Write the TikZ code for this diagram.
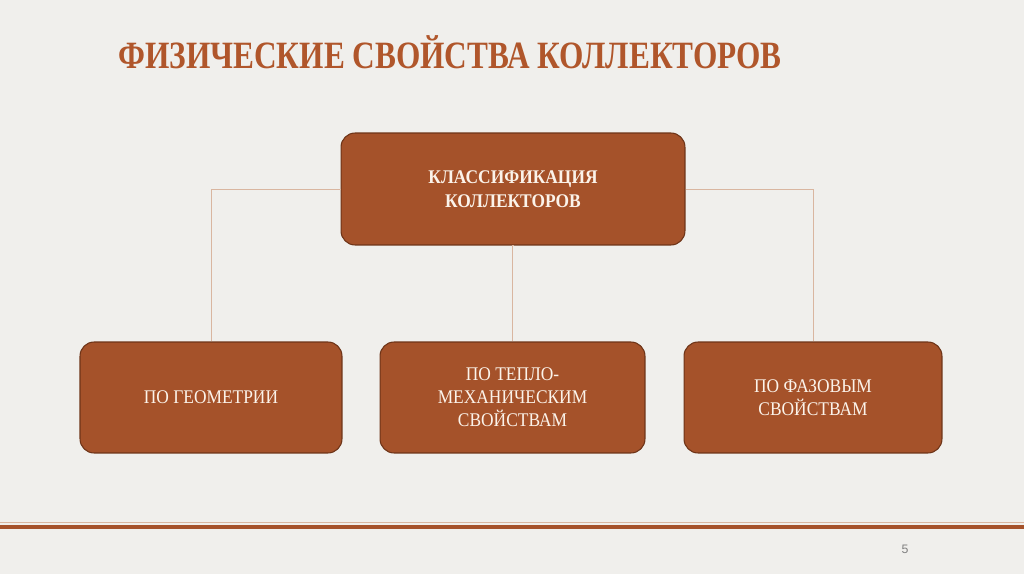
\documentclass[tikz,border=0pt]{standalone}
\usepackage{fontspec}
\setmainfont{Liberation Serif}
\newfontfamily\titlefont[FakeStretch=0.81]{Liberation Serif}
\newfontfamily\boxfont[FakeStretch=0.9]{Liberation Serif}
\newfontfamily\numfont{Liberation Sans}
\definecolor{bgcol}{HTML}{F0EFEC}
\definecolor{boxcol}{HTML}{A5522A}
\definecolor{edgecol}{HTML}{6E3418}
\definecolor{titlecol}{HTML}{B0562B}
\definecolor{linkcol}{HTML}{D9B6A0}
\definecolor{textcol}{HTML}{FBF3EA}
\tikzset{
    cbox/.style={draw=edgecol, line width=0.6pt, fill=boxcol, rounded corners=8pt, align=center, text=textcol, font=\boxfont\fontsize{11}{13}\selectfont},
    link/.style={draw=linkcol, line width=0.5pt},
}
\begin{document}
\begin{tikzpicture}[x=0.02cm, y=-0.02cm]
        \fill[bgcol] (0,0) rectangle (1024,574);
        \useasboundingbox (0,0) rectangle (1024,574);
        \node[anchor=base west, text=titlecol, font=\titlefont\bfseries\fontsize{22}{26}\selectfont, inner sep=0pt] (title) at (118,69) {ФИЗИЧЕСКИЕ СВОЙСТВА КОЛЛЕКТОРОВ};
        \node[cbox, minimum width=6.88cm, minimum height=2.24cm, font=\boxfont\bfseries\fontsize{11}{14}\selectfont] (root) at (513,189) {КЛАССИФИКАЦИЯ\\КОЛЛЕКТОРОВ};
        \foreach \x/\w/\n/\l in {211/5.24/geo/ПО ГЕОМЕТРИИ,512.5/5.3/teplo/{ПО ТЕПЛО-\\МЕХАНИЧЕСКИМ\\СВОЙСТВАМ},813/5.16/faz/{ПО ФАЗОВЫМ\\СВОЙСТВАМ}}{
            \node[cbox, minimum width=\w cm, minimum height=2.22cm] (\n) at (\x,397.5) {\l};
        }
        \foreach \m/\n in {root.west/geo.north,root.south/teplo.north,root.east/faz.north}{
            \draw[link] (\m) -| (\n);
        }
        \coordinate (lineL) at (0,527);
        \coordinate (lineR) at (1024,527);
        \draw[line width=0.5pt, draw=linkcol] ([yshift=2.5pt]lineL) -- ([yshift=2.5pt]lineR);
        \draw[line width=2.4pt, draw=boxcol] (lineL) -- (lineR);
        \node[text=gray, font=\numfont\fontsize{7}{8}\selectfont] (page) at (905,549) {5};
    \end{tikzpicture}
\end{document}
